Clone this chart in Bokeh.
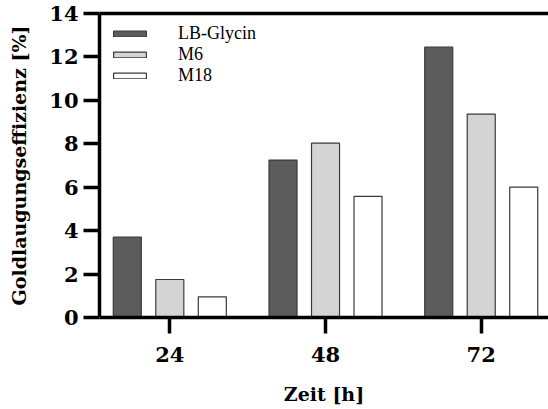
from bokeh.plotting import figure
from bokeh.models import ColumnDataSource, FixedTicker, LinearAxis, Range1d, Legend, LegendItem
from bokeh.embed import file_html
from bokeh.resources import INLINE

times = ["24", "48", "72"]
series = ["LB-Glycin", "M6", "M18"]
lb_glycin = [3.7, 7.25, 12.45]
m6 = [1.75, 8.03, 9.37]
m18 = [0.95, 5.58, 6.0]
y_ticks = [0, 2, 4, 6, 8, 10, 12, 14]

colors = ["#5c5c5c", "#d4d4d4", "#ffffff"]
offsets = [-0.273, 0.0, 0.273]
values = [lb_glycin, m6, m18]

FONT = "DejaVu Serif"
LEGEND_FONT = "Liberation Serif"

p = figure(width=548, height=409, output_backend="svg", toolbar_location=None,
           x_range=Range1d(-0.4515, 2.432), y_range=Range1d(0, 14),
           min_border_left=99, min_border_right=0, min_border_top=13, min_border_bottom=92)
p.outline_line_color = None
p.grid.visible = False
p.background_fill_color = "white"
p.border_fill_color = "white"

idx = list(range(len(times)))
renderers = []
for name, vals, col, off in zip(series, values, colors, offsets):
    src = ColumnDataSource(dict(x=[i + off for i in idx], top=vals))
    r = p.vbar(x="x", top="top", bottom=0, width=0.18, source=src,
               fill_color=col, line_color="#3a3a3a", line_width=1.2)
    renderers.append((name, r))

# axes
for ax in (p.xaxis[0], p.yaxis[0]):
    ax.axis_line_width = 3.5
    ax.axis_line_color = "black"
    ax.major_tick_line_width = 3.5
    ax.major_tick_line_color = "black"
    ax.major_tick_out = 16
    ax.major_tick_in = 0
    ax.minor_tick_line_color = None
    ax.major_label_text_font = FONT
    ax.major_label_text_font_style = "bold"
    ax.major_label_text_font_size = "21px"
    ax.major_label_text_color = "black"
    ax.axis_label_text_font = FONT
    ax.axis_label_text_font_style = "bold"
    ax.axis_label_text_font_size = "19px"
    ax.axis_label_text_color = "black"

p.xaxis.ticker = FixedTicker(ticks=idx)
p.xaxis.major_label_overrides = {i: t for i, t in zip(idx, times)}
p.xaxis.axis_label = "Zeit [h]"
p.xaxis.major_label_standoff = 13
p.xaxis.axis_label_standoff = 18

p.yaxis.ticker = FixedTicker(ticks=y_ticks)
p.yaxis.axis_label = "Goldlaugungseffizienz [%]"
p.yaxis.major_label_standoff = 5
p.yaxis.axis_label_standoff = 16

top_ax = LinearAxis(ticker=FixedTicker(ticks=[]), axis_line_width=3.5, axis_line_color="black",
                    major_tick_line_color=None, minor_tick_line_color=None,
                    major_tick_out=0, major_tick_in=0, major_label_standoff=0)
p.add_layout(top_ax, "above")

legend = Legend(items=[LegendItem(label=n, renderers=[r]) for n, r in renderers],
                location=(10, 231), margin=0, padding=5, spacing=0,
                glyph_width=41, glyph_height=7, label_height=20,
                label_text_font=LEGEND_FONT, label_text_font_style="normal",
                label_text_font_size="18px", label_text_color="black",
                label_standoff=28,
                border_line_color=None, background_fill_alpha=0)
p.add_layout(legend, "center")

open("out.html", "w").write(file_html(p, INLINE))
